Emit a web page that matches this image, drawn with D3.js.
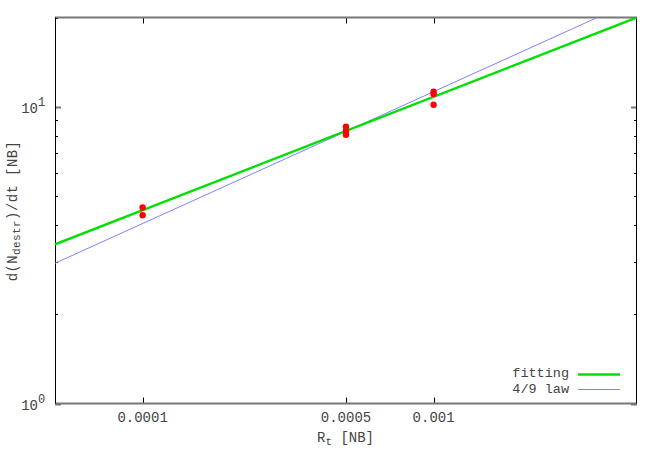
<!DOCTYPE html>
<html><head><meta charset="utf-8">
<script src="https://cdn.jsdelivr.net/npm/d3@7"></script>
<style>body{margin:0;background:#fff}text{font-family:"Liberation Mono","DejaVu Sans Mono",monospace;}</style>
</head><body>
<svg id="c" width="664" height="465"></svg>
<script>
// data
const pointsX = [0.0001, 0.0001, 0.0005, 0.0005, 0.0005, 0.001, 0.001, 0.001];
const pointsY = [4.58, 4.31, 8.57, 8.30, 8.05, 11.25, 11.05, 10.16];
const fitX = [5e-5, 5e-3];
const fitY = [3.44, 20.0];
const lawX = [5e-5, 5e-3];
const lawY = [2.97, 23.0];
const xTicks = [0.0001, 0.0005, 0.001];
const xTickLabels = ["0.0001", "0.0005", "0.001"];
const yMajor = [1, 10];
const yMinor = [2, 3, 4, 5, 6, 7, 8, 9, 20];

const svg = d3.select("#c");
const L = 55, R = 637, T = 17.5, B = 403.5;
const x = d3.scaleLog().domain([5e-5, 5e-3]).range([L, R]);
const y = d3.scaleLog().domain([1, 20]).range([B, T]);

const defs = svg.append("defs");
defs.append("clipPath").attr("id", "clip").append("rect")
  .attr("x", L).attr("y", T).attr("width", R - L).attr("height", B - T);

// ticks
const tk = svg.append("g").attr("stroke", "#000").attr("stroke-width", 1);
xTicks.forEach(v => {
  const px = Math.round(x(v)) + 0.5;
  tk.append("line").attr("x1", px).attr("x2", px).attr("y1", B).attr("y2", B - 6);
  tk.append("line").attr("x1", px).attr("x2", px).attr("y1", T).attr("y2", T + 6);
});
yMajor.forEach(v => {
  const py = Math.round(y(v)) + 0.5;
  tk.append("line").attr("x1", L).attr("x2", L + 6).attr("y1", py).attr("y2", py).attr("stroke", "#777").attr("stroke-width", 2);
  tk.append("line").attr("x1", R - 6).attr("x2", R).attr("y1", py).attr("y2", py).attr("stroke", "#777").attr("stroke-width", 2);
});
yMinor.forEach(v => {
  const py = Math.round(y(v)) + 0.5;
  tk.append("line").attr("x1", L).attr("x2", L + 3).attr("y1", py).attr("y2", py);
  tk.append("line").attr("x1", R - 3).attr("x2", R).attr("y1", py).attr("y2", py);
});

// border
svg.append("line").attr("x1", L).attr("x2", R).attr("y1", T).attr("y2", T).attr("stroke", "#777").attr("stroke-width", 2);
svg.append("line").attr("x1", L).attr("x2", R).attr("y1", B).attr("y2", B).attr("stroke", "#777").attr("stroke-width", 2);
svg.append("line").attr("x1", L + 0.5).attr("x2", L + 0.5).attr("y1", T).attr("y2", B).attr("stroke", "#000");
svg.append("line").attr("x1", R - 0.5).attr("x2", R - 0.5).attr("y1", T).attr("y2", B).attr("stroke", "#000");

// tick labels
const lab = svg.append("g").attr("fill", "#444").attr("font-size", 14);
xTicks.forEach((v, i) => {
  lab.append("text").attr("x", x(v)).attr("y", 422).attr("text-anchor", "middle").text(xTickLabels[i]);
});
yMajor.forEach(v => {
  const t = lab.append("text").attr("x", 38).attr("y", y(v) + 6).attr("text-anchor", "end");
  t.text("10");
  lab.append("text").attr("x", 38).attr("y", y(v) - 1).attr("font-size", 12).text(String(Math.round(Math.log10(v))));
});

// axis titles
const xt = lab.append("text").attr("x", 317).attr("y", 442);
xt.append("tspan").text("R");
xt.append("tspan").attr("dy", 3).attr("font-size", 11).text("t");
xt.append("tspan").attr("dy", -3).text(" [NB]");

const yt = lab.append("text").attr("transform", "translate(17,211) rotate(-90)").attr("text-anchor", "middle").attr("letter-spacing", 0.4);
yt.append("tspan").text("d(N");
yt.append("tspan").attr("dy", 3).attr("font-size", 11).text("destr");
yt.append("tspan").attr("dy", -3).text(")/dt [NB]");

// lines
const plot = svg.append("g").attr("clip-path", "url(#clip)");
const lineGen = d3.line().x(d => x(d[0])).y(d => y(d[1]));
plot.append("path").datum(lawX.map((v, i) => [v, lawY[i]])).attr("d", lineGen)
  .attr("fill", "none").attr("stroke", "#8080ff").attr("stroke-width", 1);
plot.append("path").datum(fitX.map((v, i) => [v, fitY[i]])).attr("d", lineGen)
  .attr("fill", "none").attr("stroke", "#00e000").attr("stroke-width", 2.5);

// points
plot.selectAll("circle.p").data(pointsX.map((v, i) => [v, pointsY[i]])).enter()
  .append("circle").attr("cx", d => x(d[0])).attr("cy", d => y(d[1])).attr("r", 3.2).attr("fill", "#ff0000");

// legend
const lg = svg.append("g").attr("font-size", 13.5).attr("fill", "#444");
lg.append("text").attr("x", 569).attr("y", 377).attr("text-anchor", "end").text("fitting");
lg.append("text").attr("x", 569).attr("y", 393).attr("text-anchor", "end").text("4/9 law");
svg.append("line").attr("x1", 578).attr("x2", 620).attr("y1", 374.5).attr("y2", 374.5).attr("stroke", "#00e000").attr("stroke-width", 2.5);
svg.append("line").attr("x1", 578).attr("x2", 620).attr("y1", 389.5).attr("y2", 389.5).attr("stroke", "#8080ff").attr("stroke-width", 1);
</script>
</body></html>
